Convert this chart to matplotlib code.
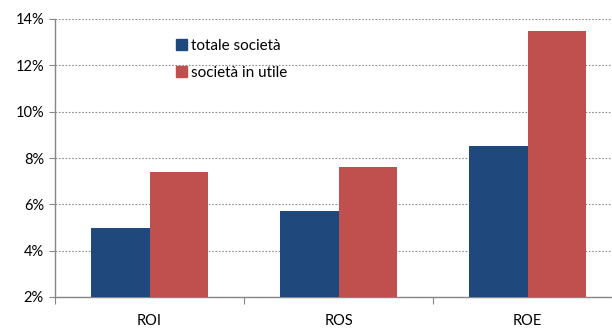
import matplotlib
matplotlib.use("Agg")
import matplotlib.pyplot as plt
import numpy as np
from matplotlib.patches import Patch

categories = ["ROI", "ROS", "ROE"]
totale = [5.0, 5.7, 8.5]
in_utile = [7.4, 7.6, 13.5]
series_labels = ["totale società", "società in utile"]
yticks = [2, 4, 6, 8, 10, 12, 14]

blue = "#1F497D"
red = "#C0504D"
axis_gray = "#868686"

plt.rcParams["font.family"] = ["Lato", "DejaVu Sans"]

fig = plt.figure(figsize=(6.12, 3.29), dpi=100)
ax = fig.add_axes([55 / 612, 32 / 329, 567 / 612, 278 / 329])

x = np.arange(len(categories))
w = 0.312
ax.bar(x - w / 2, np.array(totale) - 2, w, bottom=2, color=blue, zorder=3)
ax.bar(x + w / 2, np.array(in_utile) - 2, w, bottom=2, color=red, zorder=3)

ax.set_xlim(-0.5, len(categories) - 0.5)
ax.set_ylim(2, 14)
ax.set_yticks(yticks)
ax.set_yticklabels([f"{v}%" for v in yticks], fontsize=10.5)
ax.yaxis.grid(True, linestyle=(0, (1.5, 1.5)), color="#8c8c8c", linewidth=0.8, zorder=0)

ax.set_xticks(np.arange(len(categories) + 1) - 0.5)
ax.set_xticklabels([])
ax.set_xticks(x, minor=True)
ax.set_xticklabels(categories, minor=True, fontsize=10.5)
ax.tick_params(axis="x", which="minor", length=0, pad=12)
ax.tick_params(axis="x", which="major", length=5, color=axis_gray, direction="out")
ax.tick_params(axis="y", length=4, color=axis_gray, direction="out", pad=4)

for s in ["top", "right"]:
    ax.spines[s].set_visible(False)
for s in ["left", "bottom"]:
    ax.spines[s].set_color(axis_gray)
    ax.spines[s].set_linewidth(1.0)

handles = [Patch(color=blue), Patch(color=red)]
leg = fig.legend(handles, series_labels, loc="upper left",
                 bbox_to_anchor=(168 / 612, 1 - 31 / 329), frameon=False,
                 fontsize=11, handlelength=0.72, handleheight=0.72,
                 handletextpad=0.3, labelspacing=0.85, borderpad=0)

fig.savefig("out.png", dpi=100)
